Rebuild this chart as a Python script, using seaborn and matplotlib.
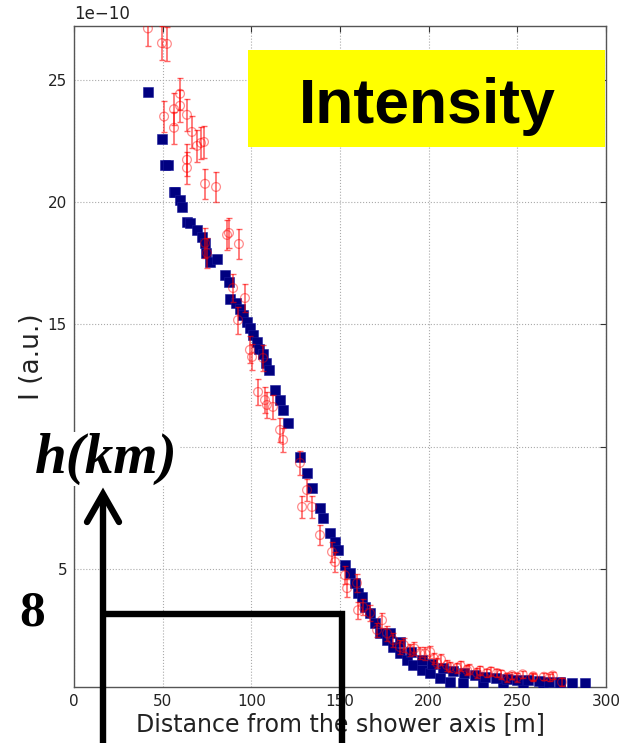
import numpy as np
import pandas as pd
import matplotlib
matplotlib.use("Agg")
import matplotlib.pyplot as plt
import seaborn as sns
from matplotlib.lines import Line2D
from matplotlib.patches import Rectangle

# ---- data (intensity in units of 1e-10) ----
blue_x = [41.7, 49.6, 51.3, 53.0, 56.4, 57.0, 59.8, 60.9, 63.7, 65.4, 69.4, 72.2, 73.9,
          74.4, 76.7, 80.6, 85.2, 87.4, 88.0, 91.4, 93.6, 95.3, 97.6, 99.2, 100.9,
          103.2, 104.3, 106.6, 108.3, 110.0, 113.3, 116.2, 117.9, 120.7,
          127.4, 131.4, 134.2, 138.7, 140.4, 144.4, 147.2, 148.9, 152.8, 155.6,
          158.5, 160.2, 162.4, 164.1, 166.9, 169.7, 172.6, 176.5, 179.9, 183.8,
          187.8, 191.2, 196.2, 200.8, 206.4, 212.0, 219.4, 230.6, 241.9, 253.2,
          264.5, 274.1, 280.8, 288.2,
          178.0, 184.0, 190.0, 196.0, 202.0, 208.0, 214.0, 220.0, 226.0, 232.0,
          238.0, 244.0, 250.0, 256.0, 262.0, 268.0, 274.0]
blue_y = [24.51, 22.59, 21.52, 21.52, 20.42, 20.42, 20.09, 19.81, 19.19, 19.15, 18.87, 18.58, 18.33,
          17.92, 17.56, 17.68, 17.02, 16.74, 16.04, 15.88, 15.63, 15.39, 15.10, 14.86, 14.57,
          14.28, 14.00, 13.79, 13.43, 13.14, 12.32, 11.91, 11.50, 10.97,
          9.58, 8.93, 8.31, 7.49, 7.09, 6.47, 6.10, 5.78, 5.16, 4.84,
          4.43, 4.02, 3.85, 3.45, 3.20, 2.79, 2.38, 2.10, 1.81, 1.56,
          1.28, 1.07, 0.87, 0.75, 0.54, 0.38, 0.34, 0.34, 0.34, 0.34,
          0.34, 0.34, 0.34, 0.34,
          2.40, 2.00, 1.60, 1.30, 1.10, 0.95, 0.85, 0.75, 0.68, 0.60,
          0.55, 0.50, 0.48, 0.45, 0.42, 0.40, 0.38]

red_x = [41.7, 49.6, 52.4, 50.8, 56.4, 56.4, 59.8, 59.8, 63.7, 66.5, 69.4, 71.6, 73.3,
         63.7, 63.7, 73.9, 80.1, 86.3, 87.4, 93.0, 73.9, 75.0, 89.7, 96.4, 92.5,
         99.2, 100.4, 106.6, 103.8, 107.7, 108.8, 112.2, 116.2, 117.9,
         127.4, 131.4, 128.6, 134.2, 138.7, 145.5, 147.2, 152.8, 154.0, 160.2,
         159.6, 163.0, 166.9, 170.9, 173.7, 176.5, 179.9, 183.8, 189.5, 195.1,
         200.8, 204.7, 210.3, 216.0, 221.6, 227.3, 232.9, 238.5, 244.2, 249.8,
         258.8, 268.4, 275.2,
         186.0, 192.0, 198.0, 203.0, 207.0, 212.0, 218.0, 223.0, 229.0, 235.0,
         241.0, 247.0, 253.0, 259.0, 265.0, 270.0]
red_y = [27.10, 26.50, 26.47, 23.50, 23.80, 23.04, 24.43, 23.94, 23.57, 22.87, 22.30, 22.42, 22.46,
         21.73, 21.40, 20.75, 20.62, 18.66, 18.74, 18.29, 18.33, 17.92, 16.49, 16.08, 15.18,
         13.96, 13.67, 13.63, 12.24, 11.91, 11.71, 11.63, 10.69, 10.28,
         9.34, 8.23, 7.54, 7.54, 6.39, 5.70, 5.29, 4.75, 4.22, 3.32,
         4.43, 3.45, 3.20, 2.51, 2.91, 2.38, 2.10, 1.81, 1.69, 1.56,
         1.61, 1.16, 1.07, 0.95, 0.87, 0.75, 0.75, 0.75, 0.58, 0.58,
         0.58, 0.58, 0.38,
         1.90, 1.75, 1.55, 1.35, 1.30, 1.00, 1.05, 0.90, 0.85, 0.82,
         0.70, 0.66, 0.70, 0.62, 0.60, 0.65]
red_err = [0.70, 0.70, 0.70, 0.65, 0.65, 0.65, 0.65, 0.65, 0.65, 0.65, 0.65, 0.65, 0.65,
           0.65, 0.65, 0.62, 0.62, 0.60, 0.60, 0.60, 0.60, 0.60, 0.58, 0.58, 0.55,
           0.55, 0.55, 0.55, 0.52, 0.52, 0.52, 0.50, 0.50, 0.50,
           0.48, 0.45, 0.45, 0.45, 0.42, 0.40, 0.40, 0.38, 0.38, 0.35,
           0.35, 0.33, 0.33, 0.30, 0.30, 0.30, 0.28, 0.28, 0.25, 0.25,
           0.25, 0.22, 0.22, 0.20, 0.20, 0.20, 0.18, 0.18, 0.18, 0.18,
           0.15, 0.15, 0.15,
           0.28, 0.25, 0.25, 0.22, 0.22, 0.20, 0.20, 0.20, 0.18, 0.18,
           0.18, 0.15, 0.15, 0.15, 0.15, 0.15]

x_ticks = [0, 50, 100, 150, 200, 250, 300]
y_ticks = [5, 10, 15, 20, 25]
# the "10" label sits hidden behind the h(km) overlay in the reference
y_tick_labels = ["5", "", "15", "20", "25"]
SCALE = 1e-10

blue_df = pd.DataFrame({"d": blue_x, "I": np.array(blue_y) * SCALE})
red_df = pd.DataFrame({"d": red_x, "I": np.array(red_y) * SCALE,
                       "err": np.array(red_err) * SCALE})

sns.set_theme(style="white")
plt.rcParams["font.family"] = ["DejaVu Sans"]

W, H = 624, 743
fig = plt.figure(figsize=(W / 100, H / 100), dpi=100)
ax = fig.add_axes([74 / W, 1 - 687 / H, (606 - 74) / W, (687 - 26) / H])

sns.scatterplot(data=blue_df, x="d", y="I", ax=ax, marker="s", s=55,
                color="#000080", edgecolor="#1a1a9a", linewidth=0.4, zorder=3)
ax.errorbar(red_df["d"], red_df["I"], yerr=red_df["err"], fmt="none",
            ecolor=(1, 0, 0, 0.6), elinewidth=1.2, capsize=2.2, capthick=1.0, zorder=4)
sns.scatterplot(data=red_df, x="d", y="I", ax=ax, marker="o", s=40,
                facecolor="none", edgecolor=(1, 0, 0, 0.45), linewidth=0.9, zorder=5)

ax.set_xlim(0, 300)
ax.set_ylim(0.18 * SCALE, 27.2 * SCALE)
ax.set_xticks(x_ticks)
ax.set_yticks([v * SCALE for v in y_ticks])
ax.set_yticklabels(y_tick_labels)
ax.text(0, 1.005, "1e\u221210", transform=ax.transAxes, fontsize=12,
        ha="left", va="bottom", color="#222222")
ax.grid(True, linestyle=":", color="#aaaaaa", linewidth=0.8)
ax.tick_params(direction="in", top=True, right=True, length=4, width=0.8,
               labelsize=11, colors="#333333", labelcolor="#222222", pad=5)
for sp in ax.spines.values():
    sp.set_color("#555555")
    sp.set_linewidth(1.0)
ax.set_xlabel("Distance from the shower axis [m]", fontsize=17, color="#222222", labelpad=2)
ax.set_ylabel("I (a.u.)", fontsize=19, color="#222222", labelpad=2)


def fx(px):
    return px / W


def fy(py):
    return 1 - py / H


# yellow "Intensity" box
fig.add_artist(Rectangle((fx(248), fy(147)), fx(605) - fx(248), fy(50) - fy(147),
                         transform=fig.transFigure, facecolor="#ffff00",
                         edgecolor="none", zorder=10))
fig.text(fx(427), fy(123), "Intensity", fontsize=45, fontweight="bold",
         family="Liberation Sans", ha="center", va="baseline", color="black", zorder=11)

# h(km) label, 8, arrow and lines
fig.text(fx(35), fy(473), "h(km)", fontsize=41, fontweight="bold", style="italic",
         family="Liberation Serif", ha="left", va="baseline", color="black", zorder=11,
         bbox=dict(facecolor="white", edgecolor="none", pad=1))
fig.text(fx(32), fy(626), "8", fontsize=37, fontweight="bold",
         family="Liberation Serif", ha="center", va="baseline", color="black", zorder=11)

lw = 4.6
fig.add_artist(Line2D([fx(103), fx(103)], [fy(760), fy(496)], transform=fig.transFigure,
                      color="black", lw=lw, solid_capstyle="butt", zorder=12))
fig.add_artist(Line2D([fx(87), fx(103), fx(119)], [fy(522), fy(494), fy(522)],
                      transform=fig.transFigure, color="black", lw=lw,
                      solid_capstyle="round", solid_joinstyle="miter", zorder=12))
fig.add_artist(Line2D([fx(103), fx(342), fx(342)], [fy(614), fy(614), fy(760)],
                      transform=fig.transFigure, color="black", lw=lw,
                      solid_capstyle="butt", solid_joinstyle="miter", zorder=12))

fig.savefig("out.png", dpi=100)
